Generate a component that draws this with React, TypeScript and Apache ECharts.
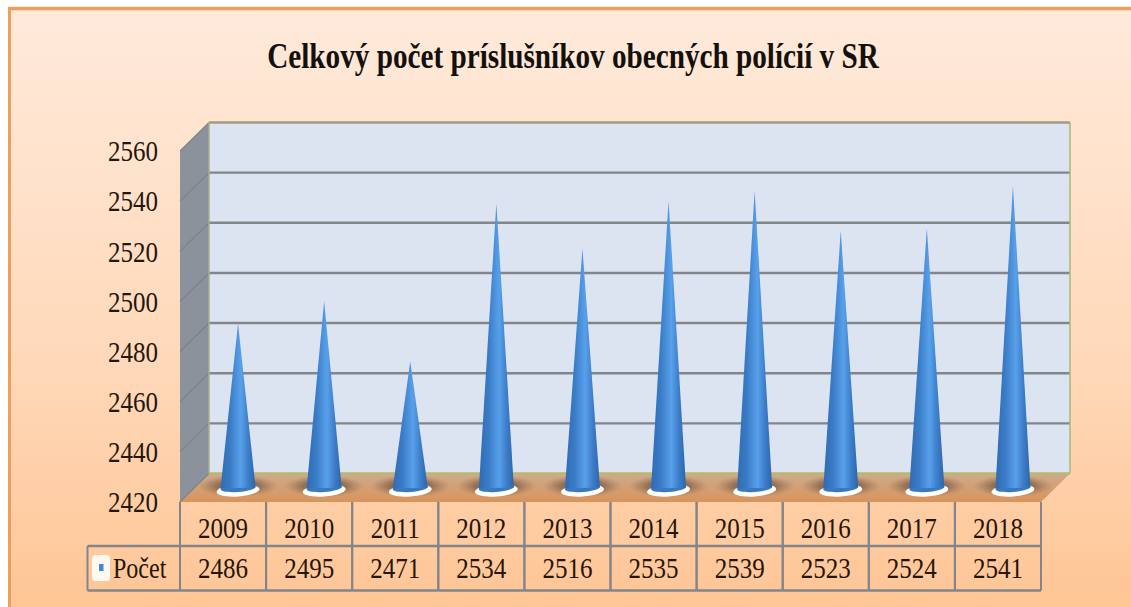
import React, { useEffect, useRef } from "react";
import * as echarts from "echarts";

const titleText = "Celkový počet príslušníkov obecných polícií v SR";
const years = ["2009", "2010", "2011", "2012", "2013", "2014", "2015", "2016", "2017", "2018"];
const counts = [2486, 2495, 2471, 2534, 2516, 2535, 2539, 2523, 2524, 2541];
const valueTicks = [2420, 2440, 2460, 2480, 2500, 2520, 2540, 2560];
const seriesName = "Počet";

// The reference is a vertically stretched picture: the chart is laid out at H/S and stretched by S.
const W = 1131;
const H = 607;
const S = 1.2;
const Y = (v: number) => v / S;
const SERIF = "'Liberation Serif', serif";
const INK = "#24150d";
const LINE = "#82868b";
const DEPTH_X = 29;
const DEPTH_Y = Y(28.5);

export default function App() {
  const ref = useRef<HTMLDivElement>(null);
  useEffect(() => {
    const chart = echarts.init(ref.current!, null, { renderer: "svg" });

    const renderWalls = (params: any, api: any) => {
      const cs = params.coordSys;
      const left = cs.x, right = cs.x + cs.width, bottom = cs.y + cs.height, top = cs.y;
      const children: any[] = [
        {
          type: "polygon",
          shape: { points: [[left + DEPTH_X, top - DEPTH_Y], [right + DEPTH_X, top - DEPTH_Y], [right + DEPTH_X, bottom - DEPTH_Y], [left + DEPTH_X, bottom - DEPTH_Y]] },
          style: { fill: "#dce4f2" },
        },
        {
          type: "polygon",
          shape: { points: [[left, top], [left + DEPTH_X, top - DEPTH_Y], [left + DEPTH_X, bottom - DEPTH_Y], [left, bottom]] },
          style: { fill: "#8b929c" },
        },
        {
          type: "polygon",
          shape: { points: [[left, bottom], [left + DEPTH_X, bottom - DEPTH_Y], [right + DEPTH_X, bottom - DEPTH_Y], [right, bottom]] },
          style: {
            fill: new echarts.graphic.LinearGradient(0, 0, 0, 1, [
              { offset: 0, color: "#cdab8c" },
              { offset: 1, color: "#d8945c" },
            ]),
          },
        },
      ];
      valueTicks.forEach((t) => {
        const y = api.coord([0, t])[1];
        children.push({
          type: "line",
          shape: { x1: left, y1: y, x2: left + DEPTH_X, y2: y - DEPTH_Y },
          style: { stroke: "#7b8189", lineWidth: 1 },
        });
        if (t === valueTicks[0]) return;
        children.push({
          type: "line",
          shape: { x1: left + DEPTH_X, y1: y - DEPTH_Y, x2: right + DEPTH_X, y2: y - DEPTH_Y },
          style: { stroke: t === valueTicks[valueTicks.length - 1] ? "#a09c86" : LINE, lineWidth: 2 },
        });
      });
      children.push(
        { type: "line", shape: { x1: left + DEPTH_X, y1: top - DEPTH_Y, x2: left + DEPTH_X, y2: bottom - DEPTH_Y }, style: { stroke: "#a9ae8c", lineWidth: 1.5 } },
        { type: "line", shape: { x1: right + DEPTH_X, y1: top - DEPTH_Y, x2: right + DEPTH_X, y2: bottom - DEPTH_Y }, style: { stroke: "#a9b878", lineWidth: 1.5 } },
        { type: "line", shape: { x1: left + DEPTH_X, y1: bottom - DEPTH_Y, x2: right + DEPTH_X, y2: bottom - DEPTH_Y }, style: { stroke: "#b9b86c", lineWidth: 2 } },
      );
      return { type: "group", children };
    };

    const renderCone = (_params: any, api: any) => {
      const tip = api.coord([api.value(0), api.value(1)]);
      const foot = api.coord([api.value(0), valueTicks[0]]);
      const cx = tip[0] + 15;
      const baseY = foot[1] - Y(14);
      const tipY = tip[1] - Y(13);
      const halfW = 17.5;
      return {
        type: "group",
        children: [
          {
            type: "ellipse",
            shape: { cx, cy: baseY - Y(2), rx: 40, ry: Y(11) },
            style: {
              fill: new echarts.graphic.RadialGradient(0.5, 0.5, 0.5, [
                { offset: 0, color: "rgba(60,46,38,0.75)" },
                { offset: 0.55, color: "rgba(80,60,48,0.45)" },
                { offset: 1, color: "rgba(120,90,70,0)" },
              ]),
            },
          },
          {
            type: "ellipse",
            shape: { cx: 0, cy: 0, rx: 21.5, ry: Y(6) },
            x: cx,
            y: baseY + Y(2.5),
            rotation: 0.06,
            style: { fill: "#ffffff" },
          },
          {
            type: "ellipse",
            shape: { cx: 0, cy: 0, rx: halfW, ry: Y(4) },
            x: cx,
            y: baseY,
            rotation: 0.06,
            style: { fill: "#3a78c2" },
          },
          {
            type: "polygon",
            shape: { points: [[cx, tipY], [cx + halfW, baseY - 0.5], [cx - halfW, baseY + 0.5]] },
            style: {
              fill: new echarts.graphic.LinearGradient(0, 0, 1, 0, [
                { offset: 0, color: "#2f6bb2" },
                { offset: 0.28, color: "#3b7cc7" },
                { offset: 0.58, color: "#58a0ea" },
                { offset: 0.8, color: "#3c7cc8" },
                { offset: 1, color: "#2c66aa" },
              ]),
            },
          },
        ],
      };
    };

    const renderTable = (params: any, api: any) => {
      const cs = params.coordSys;
      const bottom = cs.y + cs.height;
      const i = api.value(0);
      const x = api.coord([i, valueTicks[0]])[0];
      const band = api.size([1, 0])[0];
      const rowSplit = Y(546);
      const tableEnd = Y(590.5);
      const stroke = { stroke: LINE, lineWidth: 2 };
      const children: any[] = [
        { type: "line", shape: { x1: x - band / 2, y1: bottom, x2: x - band / 2, y2: tableEnd }, style: stroke },
        { type: "line", shape: { x1: x + band / 2, y1: bottom, x2: x + band / 2, y2: tableEnd }, style: stroke },
        { type: "line", shape: { x1: x - band / 2, y1: rowSplit, x2: x + band / 2, y2: rowSplit }, style: stroke },
        { type: "line", shape: { x1: x - band / 2, y1: tableEnd, x2: x + band / 2, y2: tableEnd }, style: stroke },
        {
          type: "text",
          x,
          y: Y(568),
          style: { text: String(api.value(1)), fill: INK, font: `25px ${SERIF}`, align: "center", verticalAlign: "middle" },
        },
      ];
      if (i === 0) {
        const l = 87.5;
        const r = x - band / 2;
        children.push(
          { type: "line", shape: { x1: l, y1: rowSplit, x2: r, y2: rowSplit }, style: stroke },
          { type: "line", shape: { x1: l, y1: tableEnd, x2: r, y2: tableEnd }, style: stroke },
          { type: "line", shape: { x1: l, y1: rowSplit, x2: l, y2: tableEnd }, style: stroke },
          { type: "rect", shape: { x: 92, y: Y(555), width: 18, height: Y(26), r: 3 }, style: { fill: "#fdf8f2" } },
          { type: "rect", shape: { x: 99, y: Y(564), width: 4.5, height: Y(7) }, style: { fill: "#4a86d0" } },
          {
            type: "text",
            x: 113,
            y: Y(568),
            style: { text: seriesName, fill: INK, font: `24px ${SERIF}`, align: "left", verticalAlign: "middle" },
          },
        );
      }
      return { type: "group", children };
    };

    chart.setOption({
      animation: false,
      backgroundColor: "#ffffff",
      title: {
        text: titleText,
        left: 568,
        top: Y(50),
        textAlign: "center",
        textVerticalAlign: "middle",
        textStyle: { fontFamily: SERIF, fontWeight: "bold", fontSize: 29.2, color: "#14100c" },
      },
      grid: { left: 180, width: 861, top: Y(151), height: Y(351) },
      xAxis: {
        type: "category",
        data: years,
        axisLine: { show: false },
        axisTick: { show: false },
        axisLabel: { fontFamily: SERIF, fontSize: 25, color: INK, margin: Y(11), interval: 0 },
      },
      yAxis: {
        type: "value",
        min: 2420,
        max: 2560,
        interval: 20,
        axisLine: { show: false },
        axisTick: { show: false },
        splitLine: { show: false },
        axisLabel: { fontFamily: SERIF, fontSize: 25, color: INK, margin: 22, formatter: (v: number) => String(v) },
      },
      graphic: [
        {
          type: "rect",
          z: -10,
          shape: { x: 9.5, y: Y(8.5), width: W + 20, height: H },
          style: {
            stroke: "#ef9f5c",
            lineWidth: 3,
            fill: new echarts.graphic.LinearGradient(0, 0, 0, 1, [
              { offset: 0, color: "#ffeadb" },
              { offset: 0.5, color: "#ffd8b8" },
              { offset: 1, color: "#ffbb82" },
            ]),
          },
        },
      ],
      series: [
        { type: "custom", name: "walls", z: 1, silent: true, data: [[0]], renderItem: renderWalls, encode: { x: 0 } },
        {
          type: "custom",
          name: seriesName,
          z: 2,
          data: counts.map((v, i) => [i, v]),
          renderItem: renderCone,
          encode: { x: 0, y: 1 },
        },
        {
          type: "custom",
          name: "table",
          z: 3,
          silent: true,
          data: counts.map((v, i) => [i, v]),
          renderItem: renderTable,
          encode: { x: 0, y: 1 },
        },
      ],
    });
    return () => chart.dispose();
  }, []);

  return (
    <div style={{ position: "absolute", left: 0, top: 0, width: W, height: H, overflow: "hidden" }}>
      <div
        ref={ref}
        style={{ width: W, height: H / S, transform: `scaleY(${S})`, transformOrigin: "0 0" }}
      />
    </div>
  );
}
